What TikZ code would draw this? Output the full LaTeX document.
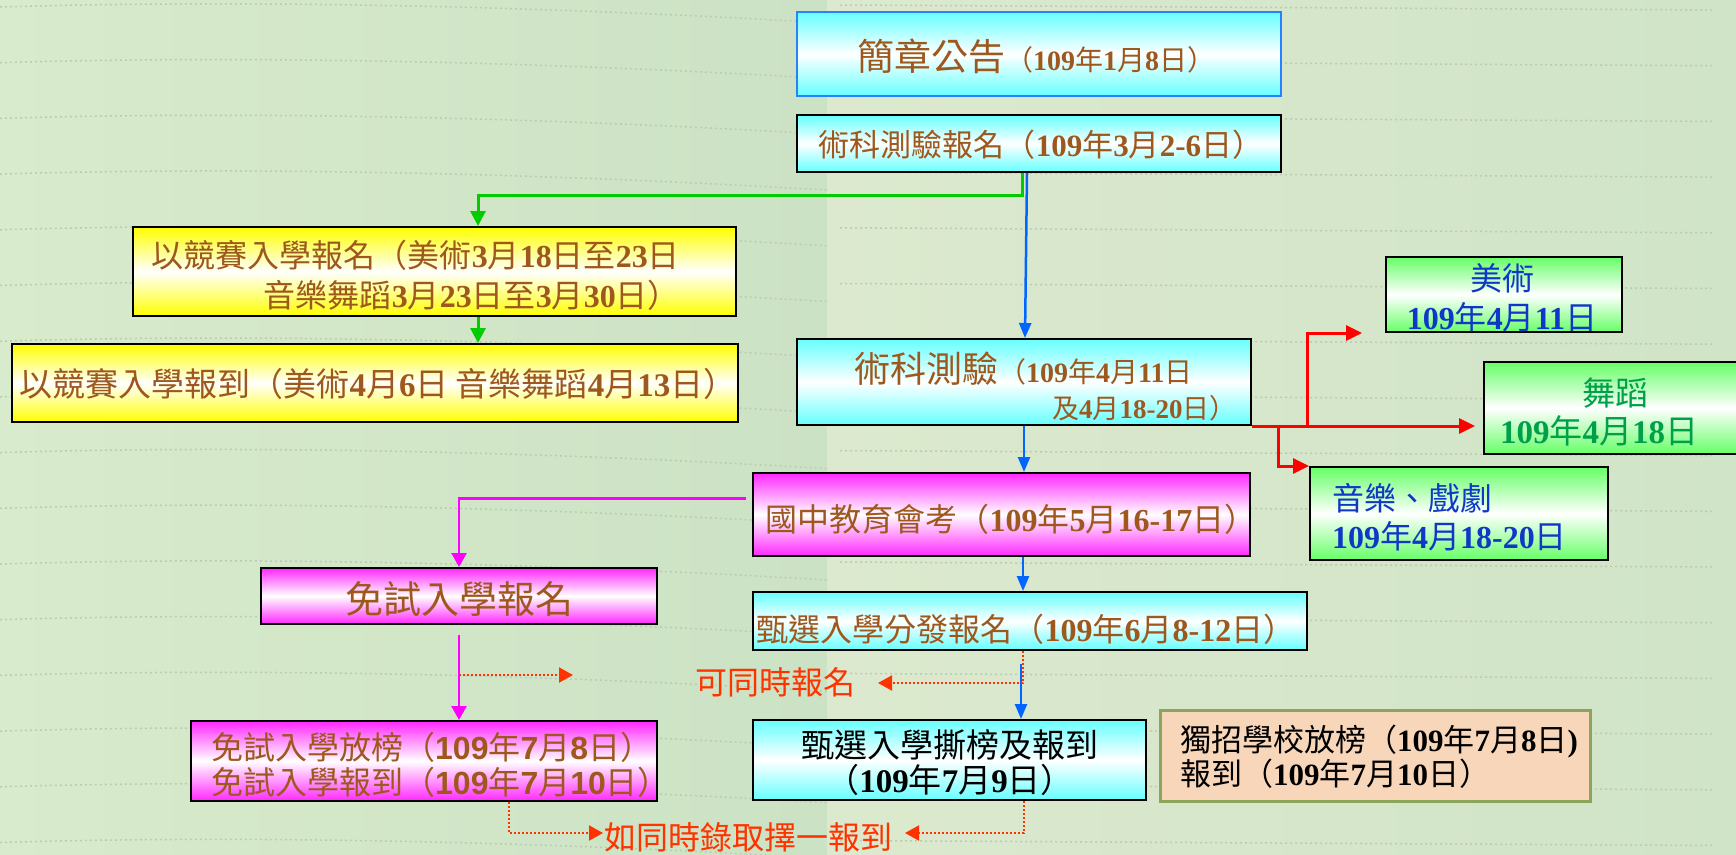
\documentclass[tikz,border=0pt]{standalone}
\usepackage{fontspec}
\setmainfont{Noto Sans CJK TC}
\newfontfamily\serifdigits{Liberation Serif}
\newfontfamily\sansdigits{Liberation Sans}
\newcommand{\digB}[1]{{\serifdigits\bfseries #1}}
\newcommand{\digS}[1]{{\sansdigits\bfseries #1}}
\newcommand{\fsz}[2]{\fontsize{#1}{#2}\selectfont}
\usetikzlibrary{arrows.meta}
\definecolor{brownT}{RGB}{158,88,30}
\definecolor{blueT}{RGB}{16,56,200}
\definecolor{greenT}{RGB}{0,160,75}
\definecolor{redT}{RGB}{255,51,0}
\definecolor{cyanF}{RGB}{102,255,255}
\definecolor{yellowF}{RGB}{255,255,0}
\definecolor{greenF}{RGB}{102,255,102}
\definecolor{magF}{RGB}{255,40,255}
\definecolor{peachF}{RGB}{248,214,186}
\definecolor{oliveB}{RGB}{140,165,90}
\definecolor{blueB}{RGB}{40,130,255}
\definecolor{arrGreen}{RGB}{0,204,0}
\definecolor{arrBlue}{RGB}{0,102,255}
\definecolor{arrMag}{RGB}{255,0,255}
\definecolor{bgL}{RGB}{216,235,204}
\definecolor{bgM}{RGB}{204,226,196}
\definecolor{bgR}{RGB}{220,233,206}
\definecolor{bgRR}{RGB}{208,228,199}
\definecolor{dotC}{RGB}{188,204,178}
\begin{document}
\begin{tikzpicture}[x=1pt,y=-1pt,
  pbox/.style={draw=black,line width=2pt,inner sep=0pt,rectangle},
  cyanbox/.style={pbox,top color=cyanF,bottom color=cyanF,middle color=white},
  yelbox/.style={pbox,top color=yellowF,bottom color=yellowF,middle color=white},
  grnbox/.style={pbox,top color=greenF,bottom color=greenF,middle color=white},
  magbox/.style={pbox,top color=magF,bottom color=magF,middle color=white},
  txt/.style={inner sep=0pt,text=brownT},
  bgdot/.style={draw=dotC,line width=1.5pt,dash pattern=on 2pt off 3pt},
  garrow/.style={draw=arrGreen,line width=3pt,-{Triangle[length=15pt,width=15pt]}},
  barrow/.style={draw=arrBlue,line width=2.5pt,-{Triangle[length=15pt,width=12pt]}},
  marrow/.style={draw=arrMag,line width=2.5pt,-{Triangle[length=14pt,width=15pt]}},
  rarrow/.style={draw=red,line width=3pt,-{Triangle[length=16pt,width=15pt]}},
  rdot/.style={draw=redT,line width=2pt,dash pattern=on 2pt off 2pt,-{Triangle[length=14pt,width=15pt]}}
]
\useasboundingbox (0,0) rectangle (1736,854);
% background
\fill[left color=bgL,right color=bgM] (0,0) rectangle (827,854);
\fill[left color=bgR,right color=bgRR] (827,0) rectangle (1736,854);
\foreach \k in {0,...,15}{
  \pgfmathsetmacro{\yy}{7+55.7*\k}
  \draw[bgdot] (0,\yy) .. controls (260,\yy-8) and (560,\yy) .. (827,\yy+16);
  \draw[bgdot] (840,\yy-2) -- (1715,\yy+3);
}

% boxes
\node[cyanbox,draw=blueB,minimum width=484pt,minimum height=84pt] (gonggao) at (1039,54) {};
\node[txt] (gonggaoT) at (1036,56) {{\fsz{37}{42}簡章公告}{\fsz{28}{32}（\digB{109}年\digB{1}月\digB{8}日）}};

\node[cyanbox,minimum width=484pt,minimum height=57pt] (baoming) at (1039,143.5) {};
\node[txt,font=\fsz{31}{34}] (baomingT) at (1041,145) {術科測驗報名（\digB{109}年\digB{3}月\digB{2-6}日）};

\node[yelbox,minimum width=603pt,minimum height=89pt] (jsbm) at (434.5,271.5) {};
\node[txt,font=\fsz{32}{40},align=right,anchor=east] (jsbmT) at (680,275) {以競賽入學報名（美術\digB{3}月\digB{18}日至\digB{23}日\\音樂舞蹈\digB{3}月\digB{23}日至\digB{3}月\digB{30}日）};

\node[yelbox,minimum width=726pt,minimum height=78pt] (jsbd) at (375,383) {};
\node[txt,font=\fsz{33}{36}] (jsbdT) at (378,384) {以競賽入學報到（美術\digB{4}月\digB{6}日 音樂舞蹈\digB{4}月\digB{13}日）};

\node[cyanbox,minimum width=454pt,minimum height=86pt] (shuke) at (1024,382) {};
\node[txt,anchor=west] (shukeA) at (854,369) {{\fsz{36}{40}術科測驗}{\fsz{28}{32}（\digB{109}年\digB{4}月\digB{11}日}};
\node[txt,anchor=west,font=\fsz{27}{30}] (shukeB) at (1052,408) {及\digB{4}月\digB{18-20}日）};

\node[grnbox,minimum width=236pt,minimum height=75pt] (meishu) at (1504,294.5) {};
\node[txt,text=blueT,font=\fsz{32}{39},align=center] (meishuT) at (1502,298) {美術\\\digB{109}年\digB{4}月\digB{11}日};

\node[grnbox,minimum width=266pt,minimum height=92pt] (wudao) at (1617,408) {};
\node[txt,text=greenT,font=\fsz{33}{36}] (wudaoA) at (1615,393) {舞蹈};
\node[txt,text=greenT,font=\fsz{33}{36}] (wudaoB) at (1599,431) {\digB{109}年\digB{4}月\digB{18}日};

\node[grnbox,minimum width=298pt,minimum height=93pt] (yinyue) at (1459,513.5) {};
\node[txt,text=blueT,font=\fsz{32}{38},align=left,anchor=west] (yinyueT) at (1332,517) {音樂、戲劇\\\digB{109}年\digB{4}月\digB{18-20}日};

\node[magbox,minimum width=497pt,minimum height=83pt] (huikao) at (1001.5,514.5) {};
\node[txt,font=\fsz{32}{34}] (huikaoT) at (1011,519) {國中教育會考（\digB{109}年\digB{5}月\digB{16-17}日）};

\node[magbox,minimum width=396pt,minimum height=56pt] (mianshi) at (459,596) {};
\node[txt,font=\fsz{38}{42}] (mianshiT) at (459,599) {免試入學報名};

\node[cyanbox,minimum width=554pt,minimum height=58pt] (zxbm) at (1030,621) {};
\node[txt,font=\fsz{32}{34}] (zxbmT) at (1026,629) {甄選入學分發報名（\digB{109}年\digB{6}月\digB{8-12}日）};

\node[magbox,minimum width=466pt,minimum height=80pt] (msfb) at (424,761) {};
\node[txt,font=\fsz{32}{35},align=left,anchor=west] (msfbT) at (211,765) {免試入學放榜（\digS{109}年\digS{7}月\digS{8}日）\\免試入學報到（\digS{109}年\digS{7}月\digS{10}日）};

\node[cyanbox,minimum width=393pt,minimum height=80pt] (sibang) at (949.5,760) {};
\node[txt,text=black,font=\fsz{33}{35},align=center] (sibangT) at (950,763) {甄選入學撕榜及報到\\（\digB{109}年\digB{7}月\digB{9}日）};

\node[pbox,fill=peachF,draw=oliveB,line width=3pt,minimum width=430pt,minimum height=91pt] (duzhao) at (1375,755.5) {};
\node[txt,text=black,font=\fsz{31}{32},align=left,anchor=west] (duzhaoT) at (1180,757) {獨招學校放榜（\digB{109}年\digB{7}月\digB{8}日\digB{)}\\報到（\digB{109}年\digB{7}月\digB{10}日）};

\node[txt,text=redT,font=\fsz{32}{36}] (tongshi) at (775,682) {可同時報名};
\node[txt,text=redT,font=\fsz{32}{36}] (zeyi) at (748,837) {如同時錄取擇一報到};

% connectors
\coordinate (gturn) at (478,195);
\draw[garrow] (1022,0 |- baoming.south) |- (gturn) -- (gturn |- jsbm.north);
\draw[garrow] (478,0 |- jsbm.south) -- (478,0 |- jsbd.north);

\draw[barrow] (1027,0 |- baoming.south) -- (1025,0 |- shuke.north);
\draw[barrow] (1024,0 |- shuke.south) -- (1024,0 |- huikao.north);
\draw[barrow] (1023,0 |- huikao.south) -- (1023,0 |- zxbm.north);
\coordinate (bS) at (1021,664);
\draw[barrow] (bS) -- (bS |- sibang.north);

\draw[marrow] ([xshift=-6pt,yshift=16pt]huikao.west) -| (mianshi.north);
\draw[marrow] ([yshift=-10pt]mianshi.south) -- (mianshi.south |- msfb.north);

\coordinate (msIn) at ([xshift=-23pt]meishu.south west);
\coordinate (wdIn) at ([xshift=-8pt]wudao.west);
\draw[rarrow] (shuke.south east) -| (1307,0 |- msIn) -- (msIn);
\draw[rarrow] (shuke.south east) -- (wdIn |- shuke.south east);
\draw[rarrow] (1278,0 |- shuke.south) |- (yinyue.north west);

\coordinate (pA1) at (459,675);
\coordinate (pA2) at (573,675);
\draw[rdot] (pA1) -- (pA2);
\coordinate (pB) at (878,683);
\draw[rdot] (1023,0 |- zxbm.south) |- (pB);
\coordinate (pC) at (603,833);
\draw[rdot] (509,0 |- msfb.south) |- (pC);
\coordinate (pD) at (905,833);
\draw[rdot] (1024,0 |- sibang.south) |- (pD);
\end{tikzpicture}
\end{document}
